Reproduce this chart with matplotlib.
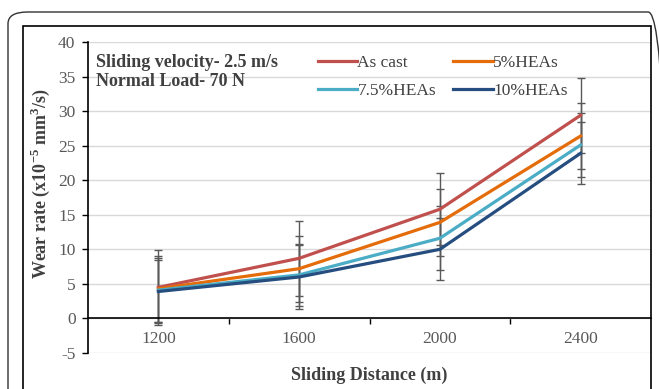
import numpy as np
import matplotlib.pyplot as plt
from matplotlib.patches import FancyBboxPatch, Rectangle

plt.rcParams['font.family'] = ['Liberation Serif', 'DejaVu Serif']
plt.rcParams['axes.unicode_minus'] = False
plt.rcParams['mathtext.fontset'] = 'custom'
plt.rcParams['mathtext.rm'] = 'Liberation Serif'
plt.rcParams['mathtext.bf'] = 'Liberation Serif:bold'

distances = ['1200', '1600', '2000', '2400']
series = ['As cast', '5%HEAs', '7.5%HEAs', '10%HEAs']
as_cast = [4.5, 8.7, 15.8, 29.4]
hea_5 = [4.3, 7.2, 13.9, 26.4]
hea_75 = [4.1, 6.3, 11.6, 25.1]
hea_10 = [3.9, 6.0, 10.0, 23.9]
err_as_cast = [5.4, 5.4, 5.2, 5.4]
err_5 = [4.8, 4.8, 4.8, 4.8]
err_75 = [4.6, 4.5, 4.6, 4.6]
err_10 = [4.6, 4.6, 4.5, 4.5]

values = [as_cast, hea_5, hea_75, hea_10]
errors = [err_as_cast, err_5, err_75, err_10]
colors = ['#C0504D', '#E46C0A', '#4BACC6', '#254D7F']

fig = plt.figure(figsize=(6.59, 3.89), dpi=100)

# outer rounded frame and inner box
fig.patches.append(FancyBboxPatch((8 / 659, -0.1), 660 / 659, 0.1 + 1 - 12 / 389,
                                  boxstyle='round,pad=0,rounding_size=0.03',
                                  transform=fig.transFigure, fill=False,
                                  edgecolor='#333333', linewidth=1.0))
fig.patches.append(Rectangle((23 / 659, -0.1), (651 - 23) / 659, 0.1 + 1 - 26 / 389,
                             transform=fig.transFigure, fill=False,
                             edgecolor='black', linewidth=1.2))

ax = fig.add_axes([88 / 659, 1 - 353 / 389, 563 / 659, (353 - 42) / 389])
x = np.arange(len(distances))

for vals, errs in zip(values, errors):
    ax.errorbar(x, vals, yerr=errs, fmt='none', ecolor='#595959',
                elinewidth=1.0, capsize=3, capthick=1.0, zorder=2)
lines = []
for vals, c, name in zip(values, colors, series):
    ln, = ax.plot(x, vals, color=c, linewidth=2.3, label=name, zorder=3)
    lines.append(ln)

ax.set_xlim(-0.5, 3.5)
ax.set_ylim(-5, 40)
ax.set_yticks(np.arange(-5, 41, 5))
ax.yaxis.grid(True, color='#d9d9d9', linewidth=1.0)
ax.set_axisbelow(True)

ax.set_xticks(x)
ax.set_xticklabels(distances)
ax.set_xticks([0.5, 1.5, 2.5], minor=True)
ax.tick_params(axis='x', which='major', length=0, pad=9)
ax.tick_params(axis='x', which='minor', length=4, width=1, direction='out')
ax.tick_params(axis='y', length=4, width=1, direction='out', pad=5)
ax.tick_params(labelsize=12.5, labelcolor='#595959')

ax.spines['bottom'].set_position(('data', 0))
ax.spines['top'].set_visible(False)
ax.spines['right'].set_visible(False)
for s in ['left', 'bottom']:
    ax.spines[s].set_linewidth(1.2)

ax.text(8 / 563, 0.962, 'Sliding velocity- 2.5 m/s\nNormal Load- 70 N',
        transform=ax.transAxes, ha='left', va='top', fontsize=13,
        fontweight='bold', color='#404040', linespacing=1.2)

# column-major legend fill -> reorder so rows read As cast, 5% / 7.5%, 10%
order = [0, 2, 1, 3]
ax.legend([lines[i] for i in order], [series[i] for i in order],
          ncol=2, loc='upper left', bbox_to_anchor=(0.38, 1.01), frameon=False,
          fontsize=12.5, handlelength=2.3, handletextpad=0.0, columnspacing=1.0,
          labelspacing=0.68, labelcolor='#404040')

fig.text(369 / 659, 1 - 375 / 389, 'Sliding Distance (m)', ha='center', va='center',
         fontsize=13, fontweight='bold', color='#404040')
fig.text(40 / 659, 1 - 184 / 389, r'Wear rate (x10$^{\mathbf{-5}}$ mm$^{\mathbf{3}}$/s)',
         ha='center', va='center', rotation=90, fontsize=13, fontweight='bold',
         color='#404040')

plt.savefig('out.png', dpi=100)
